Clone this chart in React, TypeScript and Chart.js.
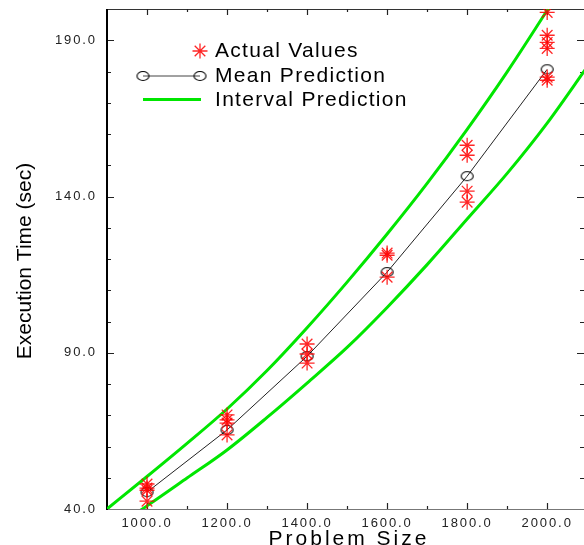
import React, { useEffect, useRef } from 'react';
import { Chart, registerables } from 'chart.js';

Chart.register(...registerables);

// ---- data ----
const problemSizes = [1000, 1200, 1400, 1600, 1800, 2000];
const meanPrediction = [45.4, 65.3, 88.9, 115.8, 146.5, 180.7];

const actualSizes = [
  1000, 1000, 1000, 1000,
  1200, 1200, 1200, 1200,
  1400, 1400, 1400,
  1600, 1600, 1600,
  1800, 1800, 1800, 1800,
  2000, 2000, 2000, 2000, 2000, 2000,
];
const actualTimes = [
  48.0, 46.7, 46.0, 42.5,
  70.1, 68.5, 67.5, 63.7,
  92.8, 89.6, 86.7,
  121.9, 121.2, 114.2,
  156.4, 153.2, 141.7, 138.2,
  198.9, 191.6, 189.3, 187.4, 178.2, 177.2,
];

const intervalSizes = [900, 1000, 1100, 1200, 1300, 1400, 1500, 1600, 1700, 1800, 1900, 2000, 2100];
const upperBound = [40, 50.4, 61, 72, 84.3, 98, 112.6, 128, 144.2, 161.5, 179.9, 199.6, 220];
const lowerBound = [32.5, 41, 49.9, 58.9, 69.3, 80.3, 91.7, 104.5, 118.2, 132.8, 147.4, 163.5, 181.5];

const xTickValues = [1000, 1100, 1200, 1300, 1400, 1500, 1600, 1700, 1800, 1900, 2000];
const xLabeledTicks = [1000, 1200, 1400, 1600, 1800, 2000];
const yTickValues = [40, 50, 60, 70, 80, 90, 100, 110, 120, 130, 140, 150, 160, 170, 180, 190];
const yLabeledTicks = [40, 90, 140, 190];

const legendLabels = ['Actual Values', 'Mean Prediction', 'Interval Prediction'];
const xTitle = 'Problem Size';
const yTitle = 'Execution Time (sec)';

const GREEN = '#00e600';
const RED = 'rgba(255,0,0,0.85)';
const FONT = "'Liberation Sans', Arial, Helvetica, sans-serif";

function makeEllipse(): HTMLCanvasElement {
  const c = document.createElement('canvas');
  c.width = 15;
  c.height = 12;
  const g = c.getContext('2d')!;
  g.strokeStyle = '#000';
  g.lineWidth = 1.1;
  g.beginPath();
  g.ellipse(7.5, 6, 6, 4.5, 0, 0, Math.PI * 2);
  g.stroke();
  return c;
}

function drawStar(ctx: CanvasRenderingContext2D, x: number, y: number, r: number) {
  ctx.save();
  ctx.strokeStyle = RED;
  ctx.lineWidth = 1.3;
  ctx.beginPath();
  for (let k = 0; k < 4; k++) {
    const a = (k * Math.PI) / 4;
    ctx.moveTo(x - r * Math.cos(a), y - r * Math.sin(a));
    ctx.lineTo(x + r * Math.cos(a), y + r * Math.sin(a));
  }
  ctx.stroke();
  ctx.restore();
}

export default function App() {
  const ref = useRef<HTMLCanvasElement | null>(null);

  useEffect(() => {
    const canvas = ref.current;
    if (!canvas) return;
    const ellipse = makeEllipse();

    const spacingPlugin = {
      id: 'spacing',
      beforeDraw(chart: any) {
        (chart.ctx as any).letterSpacing = '1.9px';
      },
      afterDraw(chart: any) {
        (chart.ctx as any).letterSpacing = '0px';
      },
    };

    const framePlugin = {
      id: 'frame',
      beforeDatasetsDraw(chart: any) {
        const ctx: CanvasRenderingContext2D = chart.ctx;
        const { left, right, top, bottom } = chart.chartArea;
        const xs = chart.scales.x;
        const ys = chart.scales.y;
        ctx.save();
        ctx.strokeStyle = '#333';
        ctx.lineWidth = 1;
        ctx.beginPath();
        ctx.moveTo(left, top + 0.5);
        ctx.lineTo(right, top + 0.5);
        ctx.stroke();
        ctx.strokeStyle = '#777';
        ctx.beginPath();
        ctx.moveTo(left, bottom + 0.5);
        ctx.lineTo(right, bottom + 0.5);
        ctx.stroke();
        ctx.strokeStyle = '#222';
        ctx.lineWidth = 1.2;
        xs.ticks.forEach((t: any) => {
          const v = t.value;
          if (v <= xs.min || v >= xs.max) return;
          const px = Math.round(xs.getPixelForValue(v)) + 0.5;
          const len = xLabeledTicks.includes(v) ? 6 : 3;
          ctx.beginPath();
          ctx.moveTo(px, bottom);
          ctx.lineTo(px, bottom - len);
          ctx.moveTo(px, top);
          ctx.lineTo(px, top + len);
          ctx.stroke();
        });
        ys.ticks.forEach((t: any) => {
          const v = t.value;
          if (v <= ys.min || v >= ys.max) return;
          const py = Math.round(ys.getPixelForValue(v)) + 0.5;
          const len = yLabeledTicks.includes(v) ? 7 : 4;
          ctx.beginPath();
          ctx.moveTo(left, py);
          ctx.lineTo(left + len, py);
          ctx.moveTo(right, py);
          ctx.lineTo(right - len, py);
          ctx.stroke();
        });
        ctx.strokeStyle = '#000';
        ctx.lineWidth = 2;
        ctx.beginPath();
        ctx.moveTo(left, top);
        ctx.lineTo(left, bottom + 1);
        ctx.stroke();
        ctx.restore();
      },
      afterDraw(chart: any) {
        const ctx: any = chart.ctx;
        ctx.save();
        drawStar(ctx, 200, 51, 7.5);
        ctx.strokeStyle = '#444';
        ctx.lineWidth = 1;
        ctx.beginPath();
        ctx.moveTo(143, 76);
        ctx.lineTo(200, 76);
        ctx.stroke();
        ctx.drawImage(ellipse, 143 - 7.5, 76 - 6);
        ctx.drawImage(ellipse, 200 - 7.5, 76 - 6);
        ctx.strokeStyle = GREEN;
        ctx.lineWidth = 3;
        ctx.beginPath();
        ctx.moveTo(143, 99.5);
        ctx.lineTo(201, 99.5);
        ctx.stroke();

        ctx.fillStyle = '#000';
        ctx.font = `21px ${FONT}`;
        ctx.letterSpacing = '1.3px';
        ctx.textAlign = 'left';
        ctx.textBaseline = 'middle';
        ctx.fillText(legendLabels[0], 215, 51);
        ctx.fillText(legendLabels[1], 215, 76);
        ctx.fillText(legendLabels[2], 215, 100);

        ctx.letterSpacing = '3px';
        ctx.textAlign = 'center';
        ctx.textBaseline = 'alphabetic';
        ctx.fillText(xTitle, 349, 545);

        ctx.letterSpacing = '0px';
        ctx.translate(25, 261);
        ctx.rotate(-Math.PI / 2);
        ctx.textAlign = 'center';
        ctx.textBaseline = 'middle';
        ctx.fillText(yTitle, 0, 0);
        ctx.restore();
      },
    };

    const chart = new Chart(canvas, {
      type: 'scatter',
      data: {
        datasets: [
          {
            label: legendLabels[0],
            data: actualSizes.map((x, i) => ({ x, y: actualTimes[i] })),
            showLine: false,
            pointStyle: 'star',
            pointRadius: 7.5,
            borderColor: RED,
            backgroundColor: RED,
            borderWidth: 1.3,
          },
          {
            label: legendLabels[1],
            type: 'line',
            data: problemSizes.map((x, i) => ({ x, y: meanPrediction[i] })),
            borderColor: '#222',
            borderWidth: 1,
            pointStyle: ellipse as any,
            pointRadius: 6,
            tension: 0,
          },
          {
            label: legendLabels[2],
            type: 'line',
            data: intervalSizes.map((x, i) => ({ x, y: upperBound[i] })),
            borderColor: GREEN,
            borderWidth: 3,
            pointRadius: 0,
            cubicInterpolationMode: 'monotone',
            clip: 0,
          },
          {
            label: legendLabels[2] + ' (lower)',
            type: 'line',
            data: intervalSizes.map((x, i) => ({ x, y: lowerBound[i] })),
            borderColor: GREEN,
            borderWidth: 3,
            pointRadius: 0,
            cubicInterpolationMode: 'monotone',
            clip: 0,
          },
        ] as any,
      },
      options: {
        animation: false,
        responsive: false,
        events: [],
        layout: { autoPadding: false, padding: { top: 9, left: 0, right: 0, bottom: 0 } },
        plugins: {
          legend: { display: false },
          tooltip: { enabled: false },
        },
        scales: {
          x: {
            type: 'linear',
            min: 900,
            max: 2092,
            grid: { display: false, drawTicks: false },
            border: { display: false },
            afterBuildTicks: (s: any) => {
              s.ticks = xTickValues.map((value) => ({ value }));
            },
            ticks: {
              autoSkip: false,
              maxRotation: 0,
              minRotation: 0,
              padding: 7,
              color: '#222',
              font: { family: FONT, size: 13 },
              callback: (v: any) => (xLabeledTicks.includes(Number(v)) ? Number(v).toFixed(1) : ''),
            },
            afterFit: (s: any) => {
              s.height = 36;
              s.paddingLeft = 0;
              s.paddingRight = 0;
            },
          },
          y: {
            type: 'linear',
            min: 40,
            max: 200,
            grid: { display: false, drawTicks: false },
            border: { display: false },
            afterBuildTicks: (s: any) => {
              s.ticks = yTickValues.map((value) => ({ value }));
            },
            ticks: {
              autoSkip: false,
              padding: 10,
              color: '#222',
              font: { family: FONT, size: 13 },
              callback: (v: any) => (yLabeledTicks.includes(Number(v)) ? Number(v).toFixed(1) : ''),
            },
            afterFit: (s: any) => {
              s.width = 107;
              s.paddingTop = 0;
              s.paddingBottom = 0;
            },
          },
        },
      } as any,
      plugins: [spacingPlugin, framePlugin],
    });

    return () => chart.destroy();
  }, []);

  return (
    <div style={{ position: 'absolute', left: 0, top: 0, width: 584, height: 545, background: '#fff' }}>
      <canvas ref={ref} width={584} height={545} style={{ display: 'block' }} />
    </div>
  );
}
